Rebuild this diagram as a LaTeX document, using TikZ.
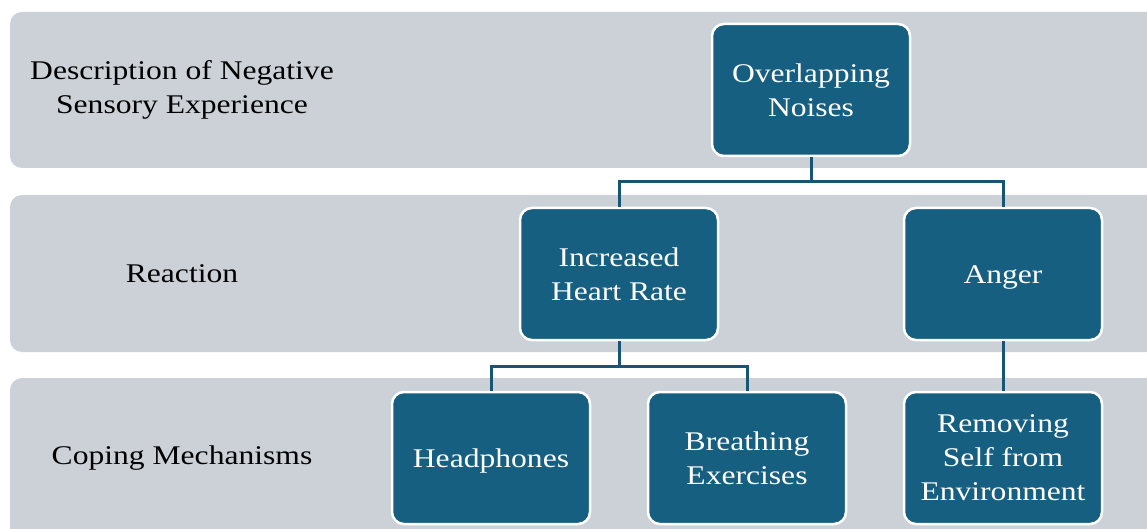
\documentclass[tikz,border=0pt]{standalone}
\usepackage{fontspec}
\setmainfont[FakeStretch=1.17]{Liberation Serif}
\definecolor{bandgrey}{RGB}{204,209,216}
\definecolor{boxblue}{RGB}{22,95,128}
\definecolor{linkblue}{RGB}{24,85,112}
\newcommand{\lowerline}{\rule{0pt}{25pt}}
\begin{document}
\begin{tikzpicture}[x=1pt,y=-1pt,
  band/.style={fill=bandgrey, draw=none, rounded corners=12pt},
  catlabel/.style={align=center, text=black, font=\fontsize{27}{34}\selectfont, inner sep=0pt},
  box/.style={fill=boxblue, draw=white, line width=2.5pt, rounded corners=12pt,
    minimum width=198pt, minimum height=132pt, align=center, text=white,
    font=\fontsize{27}{34}\selectfont, inner sep=2pt},
  link/.style={draw=linkblue, line width=3pt}]
\useasboundingbox (0,0) rectangle (1147,529);
\clip (0,0) rectangle (1147,529);
\fill[white] (0,0) rectangle (1147,529);
% bands
\path[band] (10,12) rectangle (1180,168);
\path[band] (10,195) rectangle (1180,352);
\path[band] (10,378) rectangle (1180,560);
% category labels
\node[catlabel] (lab1) at (182,90) {Description of Negative\\Sensory Experience};
\node[catlabel] (lab2) at (182,274) {Reaction};
\node[catlabel] (lab3) at (182,458) {Coping Mechanisms};
% connectors
\coordinate (j1) at (811,182);
\coordinate (j2) at (619,366);
% boxes
\node[box] (noise) at (811,90) {Overlapping\\Noises};
\node[box] (heart) at (619,274) {Increased\\Heart Rate};
\node[box] (anger) at (1003,274) {\lowerline Anger};
\node[box] (head) at (491,458) {\lowerline Headphones};
\node[box] (breath) at (747,458) {Breathing\\Exercises};
\node[box] (remove) at (1003,458) {Removing\\Self from\\Environment};
\draw[link] (noise.south) -- (j1) -| (heart.north);
\draw[link] (j1) -| (anger.north);
\draw[link] (heart.south) -- (j2) -| (head.north);
\draw[link] (j2) -| (breath.north);
\draw[link] (anger.south) -- (remove.north);
\end{tikzpicture}
\end{document}
